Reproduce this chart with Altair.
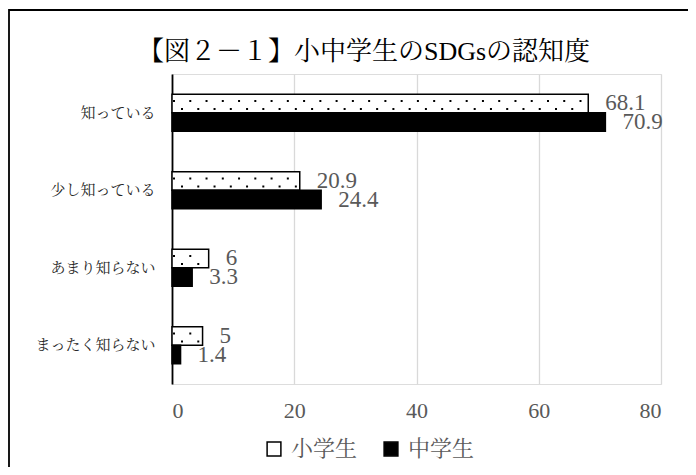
import altair as alt
import pandas as pd
import numpy as np

categories = ["知っている", "少し知っている", "あまり知らない", "まったく知らない"]
elementary = [68.1, 20.9, 6, 5]
junior = [70.9, 24.4, 3.3, 1.4]
groups = ["小学生", "中学生"]
title_text = "【図２－１】小中学生のSDGsの認知度"

FONT = "Liberation Serif, Noto Serif CJK JP, Noto Sans CJK JP, serif"
GREY = "#595959"

rows = []
for c, e, j in zip(categories, elementary, junior):
    rows.append({"cat": c, "grp": groups[0], "val": e, "lab": f"{e:g}"})
    rows.append({"cat": c, "grp": groups[1], "val": j, "lab": f"{j:g}"})
df = pd.DataFrame(rows)

# dot pattern inside the 小学生 bars (decoration derived from values)
step = 2.66
dots_a, dots_b = [], []
for c, e in zip(categories, elementary):
    for x in np.arange(0.33, e - 0.6, step):
        dots_a.append({"cat": c, "x": float(x)})
    for x in np.arange(1.64, e - 0.6, step):
        dots_b.append({"cat": c, "x": float(x)})
da = pd.DataFrame(dots_a)
dbb = pd.DataFrame(dots_b)

yenc = alt.Y("cat:N", sort=categories,
             scale=alt.Scale(paddingInner=0.52, paddingOuter=0.26),
             axis=alt.Axis(title=None, ticks=False, labelPadding=17,
                           labelFontSize=15, labelColor="#262626",
                           labelFont=FONT, domainColor="black",
                           domainWidth=1.8, grid=False))
xenc = alt.X("val:Q", scale=alt.Scale(domain=[0, 80], nice=False),
             axis=alt.Axis(title=None, values=[0, 20, 40, 60, 80],
                           domain=False, ticks=False, labelPadding=16,
                           labelFontSize=22, labelColor=GREY, labelFont=FONT,
                           grid=True, gridColor="#d9d9d9", gridWidth=1.3))

bars = alt.Chart(df).mark_bar(stroke="black", strokeWidth=1.5).encode(
    x=xenc,
    y=yenc,
    yOffset=alt.YOffset("grp:N", sort=groups),
    fill=alt.Fill("grp:N", sort=groups,
                  scale=alt.Scale(domain=groups, range=["white", "black"]),
                  legend=alt.Legend(title=None, orient="none", direction="horizontal",
                                    legendX=91, legendY=364, symbolType="square",
                                    symbolSize=190, symbolStrokeColor="black",
                                    symbolStrokeWidth=1.5, labelFontSize=22,
                                    labelColor=GREY, labelFont=FONT,
                                    columnPadding=22, labelOffset=6)),
)

labels = alt.Chart(df).mark_text(align="left", baseline="middle", dx=17,
                                 fontSize=23, color=GREY, font=FONT).encode(
    x="val:Q",
    y=alt.Y("cat:N", sort=categories),
    yOffset=alt.YOffset("grp:N", sort=groups),
    text="lab:N",
)

dotsA = alt.Chart(da).mark_square(size=4, color="black", opacity=1, yOffset=-11.75).encode(
    x="x:Q", y=alt.Y("cat:N", sort=categories))
dotsB = alt.Chart(dbb).mark_square(size=4, color="black", opacity=1, yOffset=-3.75).encode(
    x="x:Q", y=alt.Y("cat:N", sort=categories))

one = pd.DataFrame({"t": [title_text]})

frame = alt.Chart(one).mark_rect(
    fill=None, stroke="black", strokeWidth=1.8).encode(
    x=alt.value(-163), x2=alt.value(560), y=alt.value(-64), y2=alt.value(430))

title = alt.Chart(one).mark_text(
    fontSize=26, font=FONT, color="black", align="center", baseline="middle").encode(
    text="t:N", x=alt.value(192), y=alt.value(-22))

chart = alt.layer(frame, bars, dotsA, dotsB, labels, title).properties(
    width=489, height=310,
    autosize=alt.AutoSizeParams(type="none"),
    padding={"left": 164, "top": 66, "right": 27, "bottom": 83},
).configure_view(stroke=None).configure(background="white")

chart.save("out.html", embed_options={"renderer": "svg", "actions": False})
